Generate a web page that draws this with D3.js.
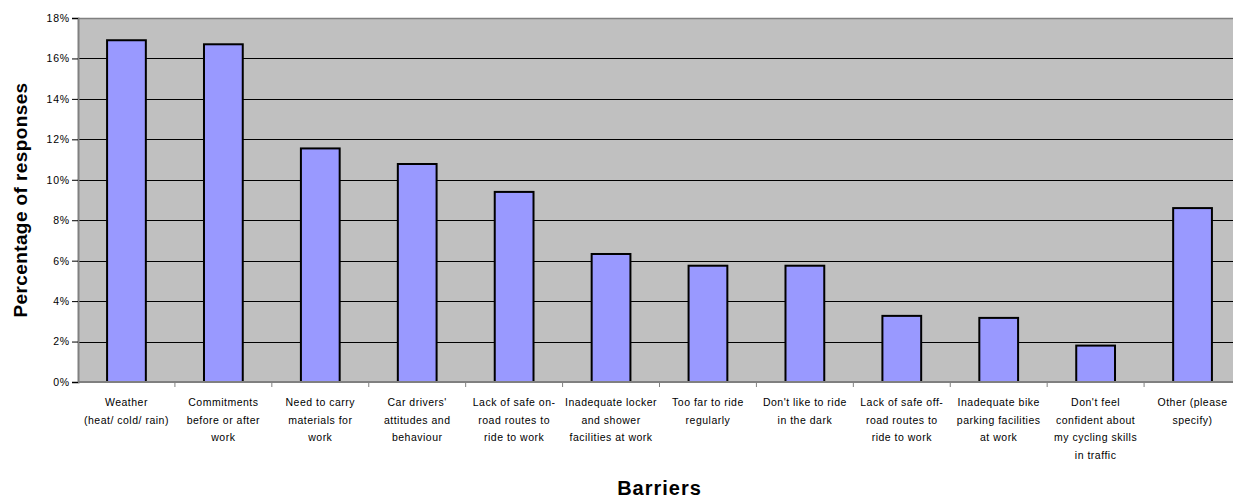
<!DOCTYPE html>
<html>
<head>
<meta charset="utf-8">
<script src="https://cdn.jsdelivr.net/npm/d3@7"></script>
<style>
  html, body { margin: 0; padding: 0; background: #ffffff; }
  svg { display: block; font-family: "Liberation Sans", Arial, sans-serif; }
</style>
</head>
<body>
<svg id="chart" width="1233" height="499"></svg>
<script>
const categories = [
  "Weather (heat/cold/rain)",
  "Commitments before or after work",
  "Need to carry materials for work",
  "Car drivers' attitudes and behaviour",
  "Lack of safe on-road routes to ride to work",
  "Inadequate locker and shower facilities at work",
  "Too far to ride regularly",
  "Don't like to ride in the dark",
  "Lack of safe off-road routes to ride to work",
  "Inadequate bike parking facilities at work",
  "Don't feel confident about my cycling skills in traffic",
  "Other (please specify)"
];
const labelLines = [
  ["Weather", "(heat/ cold/ rain)"],
  ["Commitments", "before or after", "work"],
  ["Need to carry", "materials for", "work"],
  ["Car drivers'", "attitudes and", "behaviour"],
  ["Lack of safe on-", "road routes to", "ride to work"],
  ["Inadequate locker", "and shower", "facilities at work"],
  ["Too far to ride", "regularly"],
  ["Don't like to ride", "in the dark"],
  ["Lack of safe off-", "road routes to", "ride to work"],
  ["Inadequate bike", "parking facilities", "at work"],
  ["Don't feel", "confident about", "my cycling skills", "in traffic"],
  ["Other (please", "specify)"]
];
const values = [16.9, 16.7, 11.55, 10.78, 9.4, 6.33, 5.75, 5.75, 3.27, 3.17, 1.8, 8.6];
const yTicks = [0, 2, 4, 6, 8, 10, 12, 14, 16, 18];
const yTitle = "Percentage of responses";
const xTitle = "Barriers";

(function () {
const svg = d3.select("#chart");
const pL = 78, pR = 1241, pT = 18, pB = 382;

const x = d3.scaleBand().domain(categories).range([pL, pR]).paddingInner(0.6).paddingOuter(0.3);
const xCat = d3.scaleBand().domain(categories).range([pL, pR]).padding(0);
const y = d3.scaleLinear().domain([0, 18]).range([pB, pT]);

// plot background
svg.append("rect")
  .attr("x", pL).attr("y", pT)
  .attr("width", pR - pL).attr("height", pB - pT)
  .attr("fill", "#c0c0c0");

// gridlines
svg.append("g")
  .selectAll("line")
  .data(yTicks.filter(d => d > 0 && d < 18))
  .join("line")
  .attr("x1", pL).attr("x2", pR)
  .attr("y1", d => Math.round(y(d)) + 0.5).attr("y2", d => Math.round(y(d)) + 0.5)
  .attr("stroke", "#000").attr("stroke-width", 1);

// top border
svg.append("line")
  .attr("x1", pL).attr("x2", pR)
  .attr("y1", pT + 0.5).attr("y2", pT + 0.5)
  .attr("stroke", "#808080").attr("stroke-width", 1.5);

// bars
svg.append("g")
  .selectAll("rect")
  .data(values)
  .join("rect")
  .attr("x", (d, i) => x(categories[i]))
  .attr("width", x.bandwidth())
  .attr("y", d => y(d))
  .attr("height", d => y(0) - y(d))
  .attr("fill", "#9999ff")
  .attr("stroke", "#000")
  .attr("stroke-width", 2);

// y axis
const yAxis = d3.axisLeft(y).tickValues(yTicks).tickFormat(d => d + "%").tickSize(6).tickPadding(2);
const gy = svg.append("g").attr("transform", `translate(${pL},0)`).call(yAxis);
gy.select(".domain").attr("stroke", "#808080").attr("stroke-width", 2);
gy.selectAll(".tick line").attr("stroke", "#000");
gy.selectAll(".tick text")
  .attr("font-size", "10.5px")
  .attr("letter-spacing", "0.8px")
  .attr("fill", "#000")
  .attr("font-family", "'Liberation Sans', Arial, sans-serif");

// x axis (category boundary ticks)
const boundaries = categories.map(c => xCat(c)).concat([pR]);
svg.append("line")
  .attr("x1", pL).attr("x2", pR)
  .attr("y1", pB).attr("y2", pB)
  .attr("stroke", "#808080").attr("stroke-width", 2);
svg.append("g")
  .selectAll("line")
  .data(boundaries.slice(1))
  .join("line")
  .attr("x1", d => d).attr("x2", d => d)
  .attr("y1", pB).attr("y2", pB + 5)
  .attr("stroke", "#808080").attr("stroke-width", 1);

// category labels
const lab = svg.append("g");
categories.forEach((c, i) => {
  const cx = xCat(c) + xCat.bandwidth() / 2;
  const t = lab.append("text")
    .attr("x", cx).attr("y", 406)
    .attr("text-anchor", "middle")
    .attr("font-size", "10.5px")
    .attr("letter-spacing", "0.5px")
    .attr("fill", "#000");
  labelLines[i].forEach((ln, k) => {
    t.append("tspan").attr("x", cx).attr("y", 406 + k * 17.5).text(ln);
  });
});

// axis titles
svg.append("text")
  .attr("transform", `translate(27,${(pT + pB) / 2}) rotate(-90)`)
  .attr("text-anchor", "middle")
  .attr("font-size", "19px")
  .attr("font-weight", "bold")
  .attr("letter-spacing", "0.4px")
  .attr("fill", "#000")
  .text(yTitle);

svg.append("text")
  .attr("x", (pL + pR) / 2).attr("y", 495)
  .attr("text-anchor", "middle")
  .attr("font-size", "20px")
  .attr("font-weight", "bold")
  .attr("letter-spacing", "1px")
  .attr("fill", "#000")
  .text(xTitle);
})();
</script>
</body>
</html>
